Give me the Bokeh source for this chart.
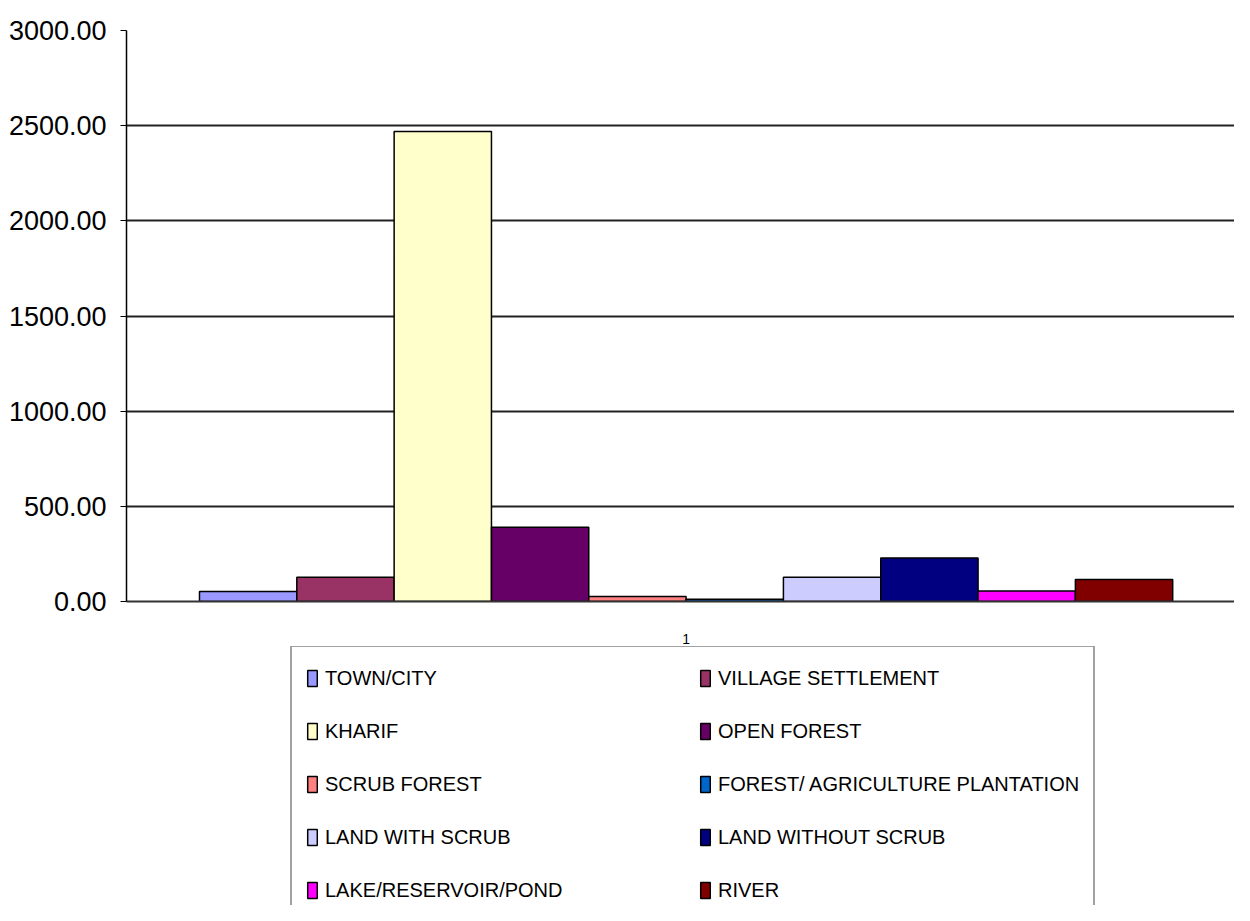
from bokeh.plotting import figure
from bokeh.layouts import column
from bokeh.models import (Range1d, FixedTicker, NumeralTickFormatter,
                          Legend, LegendItem, ColumnDataSource)
from bokeh.transform import dodge
from bokeh.embed import file_html
from bokeh.resources import INLINE

# ---- data ----
group = [1]
categories = ["TOWN/CITY", "VILLAGE SETTLEMENT", "KHARIF", "OPEN FOREST", "SCRUB FOREST",
              "FOREST/ AGRICULTURE PLANTATION", "LAND WITH SCRUB", "LAND WITHOUT SCRUB",
              "LAKE/RESERVOIR/POND", "RIVER"]
values = [52, 128, 2470, 390, 26, 12, 128, 229, 55, 115]
colors = ["#9999FF", "#993366", "#FFFFCC", "#660066", "#FF8080",
          "#0066CC", "#CCCCFF", "#000080", "#FF00FF", "#800000"]
y_ticks = [0, 500, 1000, 1500, 2000, 2500, 3000]
x_ticks = [1]

FONT = "Liberation Sans, Arial, sans-serif"
W = 1234

p = figure(x_range=Range1d(0.5, 1.49), y_range=Range1d(0, 3000),
           width=W, height=646, output_backend="svg", toolbar_location=None,
           min_border_left=126, min_border_top=30, min_border_right=0, min_border_bottom=43)
p.outline_line_color = None
p.background_fill_color = "white"

# legend-only figure: same bars, kept below its visible range (hidden behind the legend box)
lf = figure(x_range=Range1d(0.3, 1.7), y_range=Range1d(3000, 3001), width=W, height=259,
            output_backend="svg", toolbar_location=None, x_axis_type=None, y_axis_type=None,
            min_border_left=0, min_border_right=0, min_border_top=0, min_border_bottom=0)
lf.outline_line_color = None
lf.xgrid.grid_line_color = None
lf.ygrid.grid_line_color = None

n = len(categories)
bw = 1.0 / (n + 1.5)
items = []
for i, (cat, val, col) in enumerate(zip(categories, values, colors)):
    src = ColumnDataSource(dict(x=group, top=[val]))
    off = (i - (n - 1) / 2) * bw
    p.vbar(x=dodge("x", off), top="top", bottom=0, width=bw, source=src,
           fill_color=col, line_color="black", line_width=1.5)
    r = lf.vbar(x=dodge("x", off), top="top", bottom=0, width=bw, source=src,
                fill_color=col, line_color="black", line_width=1.5)
    items.append(LegendItem(label=cat, renderers=[r]))

# y axis
p.yaxis.ticker = FixedTicker(ticks=y_ticks)
p.yaxis.formatter = NumeralTickFormatter(format="0.00")
p.yaxis.major_label_text_font = FONT
p.yaxis.major_label_text_font_size = "27px"
p.yaxis.major_label_text_color = "black"
p.yaxis.major_tick_out = 6
p.yaxis.major_tick_in = 0
p.yaxis.minor_tick_line_color = None
p.yaxis.major_tick_line_color = "black"
p.yaxis.axis_line_color = "black"
p.yaxis.axis_line_width = 1.5
p.yaxis.major_label_standoff = 14

# x axis
p.xaxis.ticker = FixedTicker(ticks=x_ticks)
p.xaxis.major_label_text_font = FONT
p.xaxis.major_label_text_font_size = "14px"
p.xaxis.major_label_text_color = "black"
p.xaxis.major_tick_line_color = None
p.xaxis.minor_tick_line_color = None
p.xaxis.axis_line_color = "#333333"
p.xaxis.axis_line_width = 2
p.xaxis.major_label_standoff = 26

# grid
p.xgrid.grid_line_color = None
p.ygrid.ticker = FixedTicker(ticks=y_ticks)
p.ygrid.grid_line_color = "#222222"
p.ygrid.grid_line_width = 2

legend = Legend(items=items, orientation="horizontal", ncols=2, location=(164, -18),
                label_text_font=FONT, label_text_font_size="20px", label_text_color="black",
                glyph_width=12, glyph_height=20, label_standoff=7, label_width=355,
                label_height=34, spacing=19, padding=14, margin=0,
                border_line_color="#444444", border_line_width=2,
                background_fill_color="white", background_fill_alpha=1.0)
lf.add_layout(legend, "center")

layout = column(p, lf, spacing=0)
open("out.html", "w").write(file_html(layout, INLINE))
